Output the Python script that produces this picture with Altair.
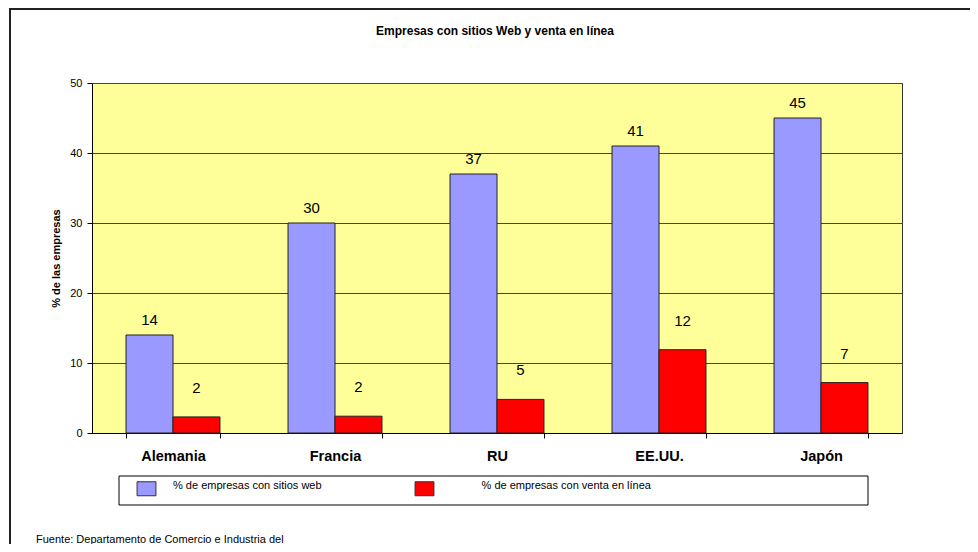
import altair as alt
import pandas as pd

# ---- data ----
countries = ["Alemania", "Francia", "RU", "EE.UU.", "Japón"]
series = ["% de empresas con sitios web", "% de empresas con venta en línea"]
web = [14, 30, 37, 41, 45]
venta = [2.3, 2.4, 4.8, 11.9, 7.2]
y_ticks = [0, 10, 20, 30, 40, 50]
colors = ["#9999FF", "#FF0000"]

title_text = "Empresas con sitios Web y venta en línea"
y_title = "% de las empresas"
footer = "Fuente: Departamento de Comercio e Industria del"

rows = []
for c, w, v in zip(countries, web, venta):
    rows.append({"País": c, "Serie": series[0], "Valor": w})
    rows.append({"País": c, "Serie": series[1], "Valor": v})
df = pd.DataFrame(rows)

FONT = "Liberation Sans"

x_enc = alt.X(
    "País:N",
    sort=countries,
    scale=alt.Scale(domain=countries, paddingInner=0.42, paddingOuter=0.21),
    axis=alt.Axis(
        title=None, labelAngle=0, tickBand="extent", grid=False,
        labelFontSize=14.5, labelFontWeight="bold", labelColor="#000",
        labelPadding=11, tickSize=5, tickColor="#000", domainColor="#000",
        labelBaseline="top",
    ),
)
xo_enc = alt.XOffset(
    "Serie:N", sort=series,
    scale=alt.Scale(domain=series, paddingInner=0, paddingOuter=0),
)
y_enc = alt.Y(
    "Valor:Q",
    stack=None,
    scale=alt.Scale(domain=[0, 50], nice=False),
    axis=alt.Axis(
        values=y_ticks, title=y_title, titleFontSize=11, titleFontWeight="bold",
        titleColor="#000", titlePadding=8, labelFontSize=11, labelColor="#000",
        labelPadding=5, tickSize=5, tickColor="#000", domainColor="#000",
        grid=True, gridColor="#444", gridWidth=1,
    ),
)

base = alt.Chart(df)

# leading zero-width space keeps the no-break spaces from being trimmed
gap = "\u200b" + "\u00a0" * 10
label_expr = f"datum.index == 1 ? '{gap}' + datum.label : datum.label"

bars = base.mark_bar(stroke="#222", strokeWidth=1).encode(
    x=x_enc,
    xOffset=xo_enc,
    y=y_enc,
    color=alt.Color(
        "Serie:N",
        sort=series,
        scale=alt.Scale(domain=series, range=colors),
        legend=alt.Legend(
            title=None, orient="none", legendX=47, legendY=398,
            direction="horizontal", columns=2, padding=0,
            symbolType="M-1.35,-1L1.35,-1L1.35,1L-1.35,1Z", symbolSize=196,
            symbolStrokeColor="#333", symbolStrokeWidth=1, symbolOpacity=1,
            labelFontSize=11, labelColor="#000", labelBaseline="alphabetic",
            labelOffset=19, columnPadding=91, labelLimit=400,
            labelExpr=label_expr,
        ),
    ),
)

web_labels = base.transform_filter(alt.datum.Serie == series[0]).mark_text(
    dy=-10, fontSize=15, color="#000", baseline="alphabetic"
).encode(x=x_enc, xOffset=xo_enc, y=y_enc, text=alt.Text("Valor:Q", format=".0f"))

venta_labels = base.transform_filter(alt.datum.Serie == series[1]).mark_text(
    dy=-24, fontSize=15, color="#000", baseline="alphabetic"
).encode(x=x_enc, xOffset=xo_enc, y=y_enc, text=alt.Text("Valor:Q", format=".0f"))

deco = alt.Chart(pd.DataFrame({"t": [footer], "title": [title_text]}))

legend_box = deco.mark_rect(fill="white", stroke="#000", strokeWidth=1).encode(
    x=alt.value(27), x2=alt.value(776), y=alt.value(393), y2=alt.value(422)
)
frame_top = deco.mark_rule(color="#222", strokeWidth=2).encode(
    x=alt.value(-83), x2=alt.value(878), y=alt.value(-74)
)
frame_left = deco.mark_rule(color="#222", strokeWidth=2).encode(
    x=alt.value(-82), y=alt.value(-74), y2=alt.value(461)
)
footer_text = deco.mark_text(
    align="left", baseline="alphabetic", fontSize=11, color="#000"
).encode(x=alt.value(-56), y=alt.value(460), text="t:N")
title_mark = deco.mark_text(
    align="center", baseline="alphabetic", fontSize=12, fontWeight="bold", color="#000"
).encode(x=alt.value(403), y=alt.value(-48), text="title:N")

chart = alt.layer(
    legend_box, frame_top, frame_left, footer_text, title_mark,
    bars, web_labels, venta_labels
).properties(
    width=810,
    height=350,
    padding={"left": 84, "top": 75, "right": 68, "bottom": 111},
    autosize=alt.AutoSizeParams(type="none"),
).configure(
    font=FONT,
).configure_view(
    fill="#FFFF99", stroke="#333", strokeWidth=1,
)

chart.save("out.html", embed_options={"renderer": "svg", "actions": False})
